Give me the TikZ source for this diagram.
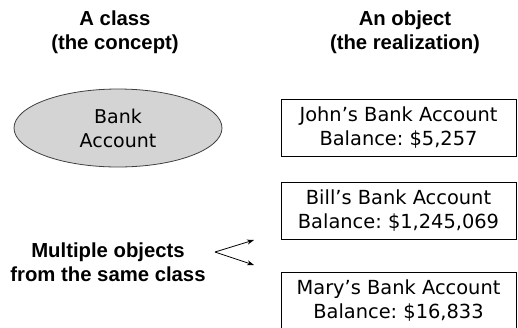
\documentclass[tikz,border=0pt]{standalone}
\usepackage{fontspec}
\setmainfont{DejaVu Sans}
\newfontfamily\headfont{Liberation Sans}
\usetikzlibrary{arrows.meta,shapes.geometric}
\frenchspacing

\tikzset{
  heading/.style={font=\headfont\bfseries\fontsize{20.3}{24}\selectfont, align=center, inner sep=0pt},
  classshape/.style={ellipse, draw=black!75, line width=0.8pt, fill=black!17,
    minimum width=208pt, minimum height=78pt, inner sep=0pt,
    font=\fontsize{19}{24}\selectfont, align=center},
  objbox/.style={rectangle, draw=black, line width=0.8pt,
    minimum width=235pt, minimum height=57pt, inner sep=0pt,
    font=\fontsize{19.4}{24}\selectfont, align=center},
  fork/.style={line width=0.8pt, -{Stealth[length=7pt,width=5pt]}}
}

\begin{document}
\begin{tikzpicture}[x=1pt,y=-1pt]
  \useasboundingbox (0,0) rectangle (518,327);
  \begin{scope}
    \clip (0,0) rectangle (518,327);

    % column headings
    \node[heading] (hclass) at (115,32) {A class\\(the concept)};
    \node[heading] (hobj) at (405,32) {An object\\(the realization)};

    % the class
    \node[classshape] (cls) at (118,128) {Bank\\Account};

    % the objects
    \node[objbox] (john) at (398.5,128) {John’s Bank Account\\Balance: \$5,257};
    \node[objbox] (bill) at (398.5,210.5) {Bill’s Bank Account\\Balance: \$1,245,069};
    \node[objbox] (mary) at (398.5,301) {Mary’s Bank Account\\Balance: \$16,833};

    % note with its fork of arrows
    \node[heading] (multi) at (108,262) {Multiple objects\\from the same class};
    \coordinate (forkpt) at (215,252);
    \coordinate (upTip) at (254,240);
    \coordinate (downTip) at (254,265);
    \draw[fork] (forkpt) -- (upTip);
    \draw[fork] (forkpt) -- (downTip);
  \end{scope}
\end{tikzpicture}
\end{document}
